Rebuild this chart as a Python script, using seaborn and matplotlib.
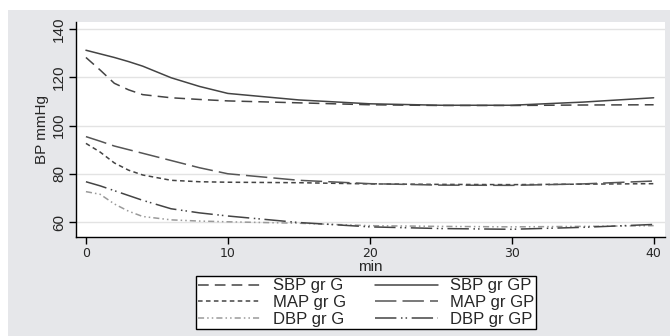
import matplotlib.pyplot as plt
from matplotlib.patches import Rectangle
import pandas as pd
import seaborn as sns


# ==============================
# data
# ==============================
minutes = [0, 1, 2, 3, 4, 6, 8, 10, 15, 20, 25, 30, 35, 40]

sbp_g = [128.2, 123.0, 117.5, 114.8, 112.8, 111.5, 110.8, 110.2, 109.4, 108.6, 108.3, 108.3, 108.5, 108.6]
sbp_gp = [131.2, 129.7, 128.2, 126.5, 124.6, 119.8, 116.2, 113.3, 110.6, 109.0, 108.4, 108.4, 109.7, 111.5]
map_g = [92.6, 89.0, 84.5, 81.5, 79.5, 77.3, 76.7, 76.5, 76.3, 75.8, 75.6, 75.5, 75.7, 75.9]
map_gp = [95.4, 93.5, 91.5, 90.0, 88.5, 85.5, 82.5, 80.0, 77.3, 75.9, 75.3, 75.2, 75.8, 77.0]
dbp_g = [72.6, 71.5, 67.5, 64.5, 62.3, 60.9, 60.4, 60.1, 59.5, 58.5, 58.2, 58.0, 58.2, 58.5]
dbp_gp = [76.7, 75.0, 73.0, 71.0, 69.0, 65.5, 63.8, 62.5, 59.8, 58.0, 57.3, 57.0, 57.8, 59.0]

series = {
    "SBP gr G": sbp_g,
    "MAP gr G": map_g,
    "DBP gr G": dbp_g,
    "SBP gr GP": sbp_gp,
    "MAP gr GP": map_gp,
    "DBP gr GP": dbp_gp,
}

# line styles (stata-ish monochrome)
styles = {
    "SBP gr G": dict(color="#444444", linestyle=(0, (7, 4))),
    "MAP gr G": dict(color="#444444", linestyle=(0, (3, 2.2))),
    "DBP gr G": dict(color="#9a9a9a", linestyle=(0, (4, 2, 1, 2, 1, 2))),
    "SBP gr GP": dict(color="#444444", linestyle="-"),
    "MAP gr GP": dict(color="#555555", linestyle=(0, (14, 4))),
    "DBP gr GP": dict(color="#444444", linestyle=(0, (14, 3, 1, 2, 1, 3))),
}

rows = []
for name, vals in series.items():
    for t, v in zip(minutes, vals):
        rows.append({"min": t, "bp": v, "series": name})
df = pd.DataFrame(rows)

sns.set_style("white")
plt.rcParams["font.family"] = ["Liberation Sans", "DejaVu Sans"]

fig = plt.figure(figsize=(6.7, 3.36), dpi=100)
fig.patch.set_facecolor("white")
# grey graph region behind everything
bg = Rectangle((8 / 670, 0), 1, 1 - 10 / 336, transform=fig.transFigure,
               facecolor="#e6e7ea", edgecolor="none", zorder=-10)
fig.add_artist(bg)

ax = fig.add_axes([76 / 670, 1 - 237 / 336, 589 / 670, 215 / 336])
ax.set_zorder(1)
ax.set_facecolor("white")

for name in series:
    sub = df[df["series"] == name]
    sns.lineplot(data=sub, x="min", y="bp", ax=ax, label=name, linewidth=1.1,
                 **styles[name])

ax.set_xlim(-0.7, 40.8)
ax.set_ylim(53.8, 142.9)
ax.set_xticks([0, 10, 20, 30, 40])
ax.set_yticks([60, 80, 100, 120, 140])
ax.yaxis.grid(True, color="#e3e3e3", linewidth=1)
ax.xaxis.grid(False)

for s in ["top", "right"]:
    ax.spines[s].set_visible(False)
for s in ["left", "bottom"]:
    ax.spines[s].set_color("black")
    ax.spines[s].set_linewidth(1)

ax.tick_params(axis="both", direction="out", length=5, width=1, color="black",
               left=True, bottom=True)
ax.tick_params(axis="y", labelsize=11, pad=2)
for lab in ax.get_yticklabels():
    lab.set_rotation(90)
    lab.set_va("center")
ax.tick_params(axis="x", labelsize=9, pad=2)
for lab in ax.get_xticklabels():
    lab.set_family("DejaVu Sans")

ax.set_xlabel("min", fontsize=11, labelpad=0)
ax.set_ylabel("BP mmHg", fontsize=11, labelpad=2)

ax.get_legend().remove()
handles, labels = ax.get_legend_handles_labels()
leg = fig.legend(handles, labels, loc="center", bbox_to_anchor=(366 / 670, 1 - 302.5 / 336),
                 ncol=2, fontsize=12, frameon=True, fancybox=False, framealpha=1,
                 edgecolor="black", handlelength=3.8, handletextpad=0.7,
                 columnspacing=1.7, labelspacing=0.1, borderpad=0.15)
leg.get_frame().set_linewidth(1)
leg.set_zorder(5)

fig.savefig("out.png", dpi=100, facecolor=fig.get_facecolor())
plt.close()
